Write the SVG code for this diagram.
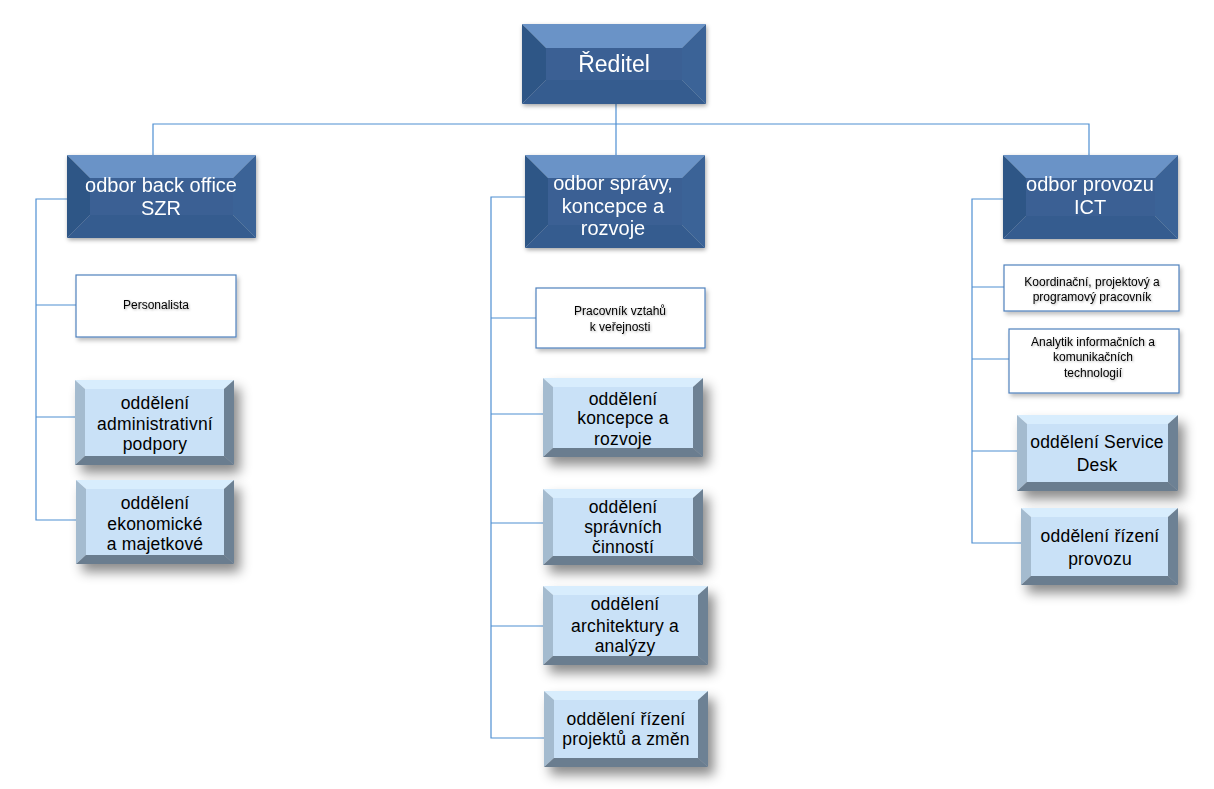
<svg xmlns="http://www.w3.org/2000/svg" width="1214" height="789" viewBox="0 0 1214 789">
<defs>
<filter id="shD" x="-10%" y="-10%" width="130%" height="140%"><feDropShadow dx="1" dy="2" stdDeviation="2" flood-color="#000" flood-opacity="0.35"/></filter>
<filter id="shL" x="-10%" y="-10%" width="140%" height="160%"><feDropShadow dx="6" dy="8" stdDeviation="6" flood-color="#000" flood-opacity="0.45"/></filter>
<filter id="shW" x="-10%" y="-10%" width="130%" height="140%"><feDropShadow dx="2" dy="3" stdDeviation="2" flood-color="#000" flood-opacity="0.25"/></filter>
<filter id="tsh" x="-10%" y="-20%" width="130%" height="150%"><feDropShadow dx="1" dy="1" stdDeviation="1" flood-color="#000" flood-opacity="0.3"/></filter>
</defs>
<style>
.conn{fill:none;stroke:#4f8fd2;stroke-width:1.2}
.dt{fill:#6a93c7}.dl{fill:#2f5686}.dr{fill:#3b6497}.db{fill:#365c8f}.df{fill:#3a6194}
.lt{fill:#d8edfd}.ll{fill:#a4bbcf}.lr{fill:#6d8194}.lb{fill:#6b7d8f}.lf{fill:#c9e1f7}
.wb{fill:#fff;stroke:#4f81bd;stroke-width:1.2}
.tD{font-family:"Liberation Sans",Arial,sans-serif;font-size:20px;fill:#fff;text-anchor:middle}
.tL{font-family:"Liberation Sans",Arial,sans-serif;font-size:17.5px;fill:#000;text-anchor:middle;letter-spacing:0.2px}
.tW{font-family:"Liberation Sans",Arial,sans-serif;font-size:12px;fill:#000;text-anchor:middle}
</style>
<rect width="1214" height="789" fill="#fff"/>
<g id="connectors">
<path class="conn" d="M616 104V124M153 155V124H1089V155M616 124V155"/>
<path class="conn" d="M67 199H36V520H76M36 305H76M36 417H75"/>
<path class="conn" d="M525 197H491V738H544M491 318H536M491 414H543M491 523H543M491 626H543"/>
<path class="conn" d="M1003 199H972V543H1021M972 287H1004M972 359H1009M972 451H1017"/>
</g>
<g id="reditel" filter="url(#shD)">
<path class="dt" d="M522 24H706L682 48H546Z"/><path class="dl" d="M522 24L546 48V80L522 104Z"/><path class="dr" d="M706 24V104L682 80V48Z"/><path class="db" d="M522 104H706L682 80H546Z"/><rect class="df" x="546" y="48" width="136" height="32"/>
<text class="tD" x="614" y="72" style="font-size:23px">Ředitel</text>
</g>
<g id="odbor-back-office" filter="url(#shD)">
<path class="dt" d="M67 155H256L233 178H90Z"/><path class="dl" d="M67 155L90 178V215L67 238Z"/><path class="dr" d="M256 155V238L233 215V178Z"/><path class="db" d="M67 238H256L233 215H90Z"/><rect class="df" x="90" y="178" width="143" height="37"/>
<text class="tD" x="161" y="192">odbor back office</text><text class="tD" x="161" y="215">SZR</text>
</g>
<g id="odbor-spravy" filter="url(#shD)">
<path class="dt" d="M525 155H705L682 178H548Z"/><path class="dl" d="M525 155L548 178V225L525 248Z"/><path class="dr" d="M705 155V248L682 225V178Z"/><path class="db" d="M525 248H705L682 225H548Z"/><rect class="df" x="548" y="178" width="134" height="47"/>
<text class="tD" x="613" y="190">odbor správy,</text><text class="tD" x="613" y="213">koncepce a</text><text class="tD" x="613" y="235">rozvoje</text>
</g>
<g id="odbor-provozu" filter="url(#shD)">
<path class="dt" d="M1003 155H1178L1155 178H1026Z"/><path class="dl" d="M1003 155L1026 178V216L1003 239Z"/><path class="dr" d="M1178 155V239L1155 216V178Z"/><path class="db" d="M1003 239H1178L1155 216H1026Z"/><rect class="df" x="1026" y="178" width="129" height="38"/>
<text class="tD" x="1090" y="191">odbor provozu</text><text class="tD" x="1090" y="214">ICT</text>
</g>
<g id="personalista">
<rect class="wb" x="76" y="275" width="160" height="62" filter="url(#shW)"/>
<text class="tW" x="156" y="309" filter="url(#tsh)">Personalista</text>
</g>
<g id="pracovnik-vztahu">
<rect class="wb" x="536" y="288" width="169" height="60" filter="url(#shW)"/>
<text class="tW" x="620" y="315" filter="url(#tsh)">Pracovník vztahů</text><text class="tW" x="620" y="331" filter="url(#tsh)">k veřejnosti</text>
</g>
<g id="koordinacni">
<rect class="wb" x="1004" y="265" width="175" height="46" filter="url(#shW)"/>
<text class="tW" x="1092" y="286" filter="url(#tsh)">Koordinační, projektový a</text><text class="tW" x="1092" y="301" filter="url(#tsh)">programový pracovník</text>
</g>
<g id="analytik">
<rect class="wb" x="1009" y="329" width="170" height="64" filter="url(#shW)"/>
<text class="tW" x="1093" y="346" filter="url(#tsh)">Analytik informačních a</text><text class="tW" x="1093" y="361" filter="url(#tsh)">komunikačních</text><text class="tW" x="1093" y="377" filter="url(#tsh)">technologií</text>
</g>
<g id="odd-administrativni">
<g filter="url(#shL)"><path class="lt" d="M75 380H234L224 389H85Z"/><path class="ll" d="M75 380L85 389V456L75 465Z"/><path class="lr" d="M234 380V465L224 456V389Z"/><path class="lb" d="M75 465H234L224 456H85Z"/><rect class="lf" x="85" y="389" width="139" height="67"/></g>
<text class="tL" x="155" y="409">oddělení</text><text class="tL" x="155" y="430">administrativní</text><text class="tL" x="155" y="450">podpory</text>
</g>
<g id="odd-ekonomicke">
<g filter="url(#shL)"><path class="lt" d="M76 480H234L224 489H86Z"/><path class="ll" d="M76 480L86 489V555L76 564Z"/><path class="lr" d="M234 480V564L224 555V489Z"/><path class="lb" d="M76 564H234L224 555H86Z"/><rect class="lf" x="86" y="489" width="138" height="66"/></g>
<text class="tL" x="155" y="509">oddělení</text><text class="tL" x="155" y="530">ekonomické</text><text class="tL" x="155" y="550">a majetkové</text>
</g>
<g id="odd-koncepce">
<g filter="url(#shL)"><path class="lt" d="M543 378H703L693 387H553Z"/><path class="ll" d="M543 378L553 387V448L543 457Z"/><path class="lr" d="M703 378V457L693 448V387Z"/><path class="lb" d="M543 457H703L693 448H553Z"/><rect class="lf" x="553" y="387" width="140" height="61"/></g>
<text class="tL" x="623" y="405">oddělení</text><text class="tL" x="623" y="424">koncepce a</text><text class="tL" x="623" y="445">rozvoje</text>
</g>
<g id="odd-spravnich">
<g filter="url(#shL)"><path class="lt" d="M543 489H703L693 498H553Z"/><path class="ll" d="M543 489L553 498V556L543 565Z"/><path class="lr" d="M703 489V565L693 556V498Z"/><path class="lb" d="M543 565H703L693 556H553Z"/><rect class="lf" x="553" y="498" width="140" height="58"/></g>
<text class="tL" x="623" y="513">oddělení</text><text class="tL" x="623" y="533">správních</text><text class="tL" x="623" y="553">činností</text>
</g>
<g id="odd-architektury">
<g filter="url(#shL)"><path class="lt" d="M543 586H708L698 595H553Z"/><path class="ll" d="M543 586L553 595V656L543 665Z"/><path class="lr" d="M708 586V665L698 656V595Z"/><path class="lb" d="M543 665H708L698 656H553Z"/><rect class="lf" x="553" y="595" width="145" height="61"/></g>
<text class="tL" x="625" y="610">oddělení</text><text class="tL" x="625" y="632">architektury a</text><text class="tL" x="625" y="652">analýzy</text>
</g>
<g id="odd-rizeni-projektu">
<g filter="url(#shL)"><path class="lt" d="M544 691H708L698 700H554Z"/><path class="ll" d="M544 691L554 700V758L544 767Z"/><path class="lr" d="M708 691V767L698 758V700Z"/><path class="lb" d="M544 767H708L698 758H554Z"/><rect class="lf" x="554" y="700" width="144" height="58"/></g>
<text class="tL" x="626" y="725">oddělení řízení</text><text class="tL" x="626" y="745">projektů a změn</text>
</g>
<g id="odd-service-desk">
<g filter="url(#shL)"><path class="lt" d="M1017 415H1178L1168 424H1027Z"/><path class="ll" d="M1017 415L1027 424V482L1017 491Z"/><path class="lr" d="M1178 415V491L1168 482V424Z"/><path class="lb" d="M1017 491H1178L1168 482H1027Z"/><rect class="lf" x="1027" y="424" width="141" height="58"/></g>
<text class="tL" x="1097" y="448">oddělení Service</text><text class="tL" x="1097" y="471">Desk</text>
</g>
<g id="odd-rizeni-provozu">
<g filter="url(#shL)"><path class="lt" d="M1021 508H1178L1168 517H1031Z"/><path class="ll" d="M1021 508L1031 517V576L1021 585Z"/><path class="lr" d="M1178 508V585L1168 576V517Z"/><path class="lb" d="M1021 585H1178L1168 576H1031Z"/><rect class="lf" x="1031" y="517" width="137" height="59"/></g>
<text class="tL" x="1100" y="542">oddělení řízení</text><text class="tL" x="1100" y="565">provozu</text>
</g>
</svg>
